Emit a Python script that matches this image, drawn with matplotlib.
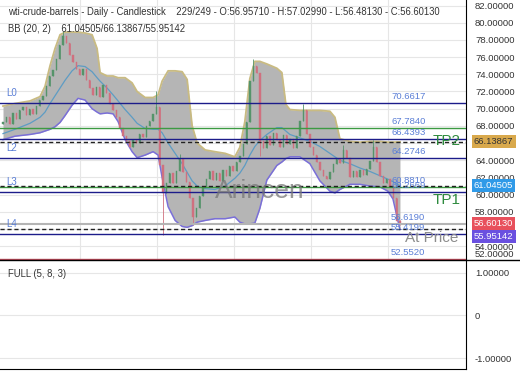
import numpy as np
import matplotlib.pyplot as plt
from matplotlib.lines import Line2D
from matplotlib.transforms import blended_transform_factory

plt.rcParams['font.family'] = ['Liberation Sans', 'DejaVu Sans']

# daily closes (bar 0 .. bar 119)
closes = [68.5, 69.0, 68.2, 69.5, 68.8, 69.8, 70.2, 69.3, 70.0, 69.4,
          70.3, 71.0, 71.5, 72.6, 73.8, 74.5, 75.8, 77.4, 78.4, 77.6,
          76.2, 75.4, 74.6, 73.9, 74.6, 73.3, 72.4, 71.6, 72.5, 71.4,
          72.7, 71.8, 70.6, 69.8, 69.0, 67.8, 66.8, 66.2, 65.6, 66.4,
          66.0, 67.0, 66.7, 68.0, 68.6, 69.4, 70.2, 63.5, 60.2, 61.4,
          62.5, 61.3, 62.8, 64.2, 62.6, 61.5, 59.6, 57.4, 58.5, 59.8,
          60.9, 61.8, 62.8, 61.7, 62.5, 61.6, 62.9, 62.2, 63.3, 62.8,
          63.8, 64.5, 65.9, 68.5, 73.2, 75.0, 74.2, 66.2, 65.4, 66.8,
          65.8, 67.2, 66.4, 65.5, 66.9, 65.9, 66.5, 65.4, 66.8, 68.6,
          69.8, 67.0, 65.6, 64.6, 63.8, 62.9, 62.2, 61.8, 62.6, 63.6,
          64.2, 63.7, 65.2, 64.3, 62.0, 62.7, 62.0, 62.9, 62.3, 63.0,
          63.9, 65.6, 63.8, 62.2, 61.3, 61.8, 60.9, 59.6, 56.9571, 56.6013]
first_open = 68.2
# visible wicks
wick_highs = {18: 79.0, 46: 72.0, 53: 64.7, 75: 75.8, 90: 70.5, 102: 65.8, 111: 66.3, 119: 57.0299}
wick_lows = {48: 55.3, 57: 56.5, 77: 64.5, 119: 56.4813}

# bollinger bands (20, 2)
band_bars = [0, 3.6, 8.1, 11.1, 12.6, 14.1, 15.6, 17.1, 18.6, 20.7, 22.5, 24.6, 26.7, 28.2, 29.1,
             31.2, 33.0, 34.5, 36.6, 38.7, 40.2, 42.6, 45.0, 46.5, 47.7, 49.5, 51.6, 53.7, 55.2,
             56.7, 58.2, 60.6, 63.5, 66.6, 69.5, 71.0, 72.5, 74.0, 75.5, 77.0, 79.1, 82.1, 83.6,
             84.8, 86.0, 89.0, 92.0, 95.0, 98.0, 99.5, 101.0, 104.0, 107.0, 110.0, 113.0, 115.4,
             116.9, 119]
bb_upper = [70.3, 70.6, 70.9, 71.4, 72.6, 75.0, 77.0, 78.6, 78.9, 78.9, 78.9, 78.8, 78.6, 77.0, 74.2,
            73.8, 73.8, 73.6, 73.6, 73.0, 72.0, 71.3, 71.3, 71.6, 73.2, 74.4, 74.4, 74.3, 73.4,
            68.0, 66.0, 65.2, 65.0, 64.8, 64.4, 65.5, 68.5, 73.5, 75.5, 75.5, 75.2, 74.7, 74.2,
            70.5, 69.9, 69.8, 69.8, 69.8, 69.7, 69.0, 66.5, 66.2, 66.1, 66.2, 66.2, 66.1,
            66.1, 66.13867]
bb_mid = [67.1, 67.6, 68.3, 69.0, 69.6, 70.6, 71.5, 72.4, 73.3, 74.4, 75.0, 74.9, 74.3, 73.6, 73.2,
          72.4, 71.6, 70.9, 69.9, 69.0, 68.3, 67.7, 67.6, 67.6, 67.2, 66.0, 64.8, 63.6, 62.6,
          61.6, 61.0, 60.7, 60.6, 61.0, 61.9, 62.5, 63.4, 64.6, 65.6, 66.3, 67.0, 67.8, 67.8,
          67.4, 67.0, 66.6, 66.2, 65.6, 64.8, 64.4, 64.0, 63.6, 63.1, 62.7, 62.2, 61.8,
          61.5, 61.04505]
bb_lower = [66.4, 66.8, 67.0, 67.2, 67.4, 67.6, 67.9, 68.4, 69.2, 70.4, 71.2, 71.0, 70.0, 69.6, 69.4,
            69.5, 69.4, 68.5, 66.4, 65.0, 64.3, 64.6, 65.0, 64.6, 62.0, 58.6, 57.0, 56.3, 56.2,
            56.4, 56.8, 57.0, 57.2, 57.2, 57.4, 56.8, 56.6, 56.6, 56.7, 58.4, 61.7, 63.4, 63.8,
            64.2, 64.4, 64.4, 63.6, 61.6, 60.4, 60.2, 60.6, 61.2, 61.2, 61.0, 60.9, 60.4,
            59.5, 55.95142]

# levels drawn on the chart
levels = [70.6617, 67.7840, 66.4393, 64.2746, 60.8810, 60.2669, 56.6190, 55.4199, 52.5520]
level_kind = ['L', 'TP', 'L', 'L', 'TP', 'L', 'price', 'L', 'low']
level_names = {70.6617: 'L0', 64.2746: 'L2', 60.2669: 'L3', 55.4199: 'L4'}
bb_now = [66.13867, 61.04505, 55.95142]
last_close = 56.60130
month_bars = [23.1, 46.2, 69.2, 92.3, 115.4]

header = ("wti-crude-barrels - Daily - Candlestick    229/249 - O:56.95710 - "
          "H:57.02990 - L:56.48130 - C:56.60130")

kind_color = {'L': '#1c1c8a', 'TP': '#3c9a42', 'price': '#b4b4b4', 'low': '#c04a5a'}
lbl_blue = '#5b7fd6'

fig = plt.figure(figsize=(5.2, 3.9), dpi=100)
ax = fig.add_axes([0, 1 - 260 / 390, 466 / 520, 260 / 390])
ax2 = fig.add_axes([0, 1 - 369 / 390, 466 / 520, 109 / 390])

n = len(closes)
x = np.arange(n)
opens = [first_open] + closes[:-1]
highs = [max(o, c) for o, c in zip(opens, closes)]
lows = [min(o, c) for o, c in zip(opens, closes)]
for k, v in wick_highs.items():
    highs[k] = v
for k, v in wick_lows.items():
    lows[k] = v

# bands
ax.fill_between(band_bars, bb_lower, bb_upper, color='#b5b5b5', zorder=1, lw=0)
ax.plot(band_bars, bb_upper, color='#c9bb82', lw=1.3, zorder=2)
ax.plot(band_bars, bb_lower, color='#7a6fd8', lw=1.1, zorder=2)
ax.plot(band_bars, bb_mid, color='#5d9cc4', lw=0.9, zorder=2)

# candles
cols = ['#55946a' if c >= o else '#d0707f' for o, c in zip(opens, closes)]
ax.vlines(x, lows, highs, colors=cols, lw=0.6, zorder=3)
ax.bar(x, np.array(closes) - np.array(opens), bottom=opens, width=0.4,
       color=cols, edgecolor=cols, lw=0.3, zorder=3)

# level lines + labels
tr = blended_transform_factory(ax.transAxes, ax.transData)
for v, kd in zip(levels, level_kind):
    ax.axhline(v, color=kind_color[kd], lw=1.5 if kd == 'price' else 1.0, zorder=4)
    ax.annotate(f"{v:.4f}", xy=(391 / 466, v), xycoords=tr, xytext=(0, 2),
                textcoords='offset pixels', fontsize=6.8, color=lbl_blue, va='bottom', zorder=5)
    if v in level_names:
        ax.annotate(level_names[v], xy=(6 / 466, v), xycoords=tr, xytext=(0, 5),
                    textcoords='offset pixels', fontsize=7, color=lbl_blue, va='bottom', zorder=5)
for v in bb_now:
    ax.axhline(v, color='#222222', lw=1.0, ls=(0, (3, 2)), zorder=4)

# big texts
ax.annotate('TP2', xy=(433 / 466, levels[1]), xycoords=tr, xytext=(0, -13),
            textcoords='offset pixels', fontsize=11, color='#2e8b3e', va='center', zorder=5)
ax.annotate('TP1', xy=(433 / 466, levels[4]), xycoords=tr, xytext=(0, -13),
            textcoords='offset pixels', fontsize=11, color='#2e8b3e', va='center', zorder=5)
ax.annotate('At Price', xy=(405 / 466, levels[7]), xycoords=tr, xytext=(0, -4),
            textcoords='offset pixels', fontsize=11, color='#8c8c8c', va='center', zorder=5)
ax.text(260 / 466, 0.265, 'Arincen', transform=ax.transAxes, fontsize=19, color='#777777',
        alpha=0.75, ha='center', va='center', zorder=5)

ax.text(8 / 466, 1 - 12 / 260, header, transform=ax.transAxes, fontsize=6.85,
        color='#333333', va='center', zorder=6)
ax.text(8 / 466, 1 - 29 / 260, 'BB (20, 2)    61.04505/66.13867/55.95142', transform=ax.transAxes,
        fontsize=6.85, color='#333333', va='center', zorder=6)

# axis
ax.set_xlim(-0.9, 138.8)
ax.set_ylim(52.40, 82.64)
ax.yaxis.tick_right()
ax.set_yticks(np.arange(54, 83, 2))
ax.set_yticklabels([f"{t:.5f}" for t in np.arange(54, 83, 2)])
ax.set_xticks(month_bars)
ax.set_xticklabels([])
ax.tick_params(length=0, pad=6.5, labelsize=6.8, labelcolor='#333333')
ax.grid(True, color='#e6e6e6', lw=0.8, zorder=0)
ax.set_axisbelow(True)
for s in ['left', 'top', 'bottom']:
    ax.spines[s].set_visible(False)
ax.spines['right'].set_color('black')
ax.annotate('52.00000', xy=(1, 0), xycoords='axes fraction', xytext=(9, 1),
            textcoords='offset pixels', fontsize=6.8, color='#333333', va='bottom',
            annotation_clip=False)

# current value boxes
boxes = [(bb_now[0], '#d9a94c', '#333333', 0), (bb_now[1], '#2f9ae8', 'white', 0),
         (last_close, '#e8505c', 'white', 0), (bb_now[2], '#6a50e0', 'white', -7)]
for v, fc, tc, dy in boxes:
    ax.annotate(f"{v:.5f}", xy=(1, v), xycoords=tr, xytext=(8, dy), textcoords='offset pixels',
                fontsize=6.8, color=tc, va='center', ha='left', annotation_clip=False, zorder=7,
                bbox=dict(boxstyle='square,pad=0.22', fc=fc, ec='none'))

# lower panel
ax2.set_xlim(-0.9, 138.8)
ax2.set_ylim(-1.255, 1.294)
ax2.yaxis.tick_right()
ax2.set_yticks([1, 0, -1])
ax2.set_yticklabels(['1.00000', '0', '-1.00000'])
ax2.set_xticks([])
ax2.tick_params(length=0, pad=6.5, labelsize=6.8, labelcolor='#333333')
ax2.grid(True, axis='y', color='#e6e6e6', lw=0.8)
ax2.spines['left'].set_visible(False)
ax2.spines['top'].set_visible(False)
ax2.text(8 / 466, 1 - 14 / 109, 'FULL (5, 8, 3)', transform=ax2.transAxes, fontsize=6.85,
         color='#333333', va='center')

fig.add_artist(Line2D([0, 1], [1 - 260 / 390] * 2, color='black', lw=1.0, transform=fig.transFigure))

fig.savefig('out.png', dpi=100)
